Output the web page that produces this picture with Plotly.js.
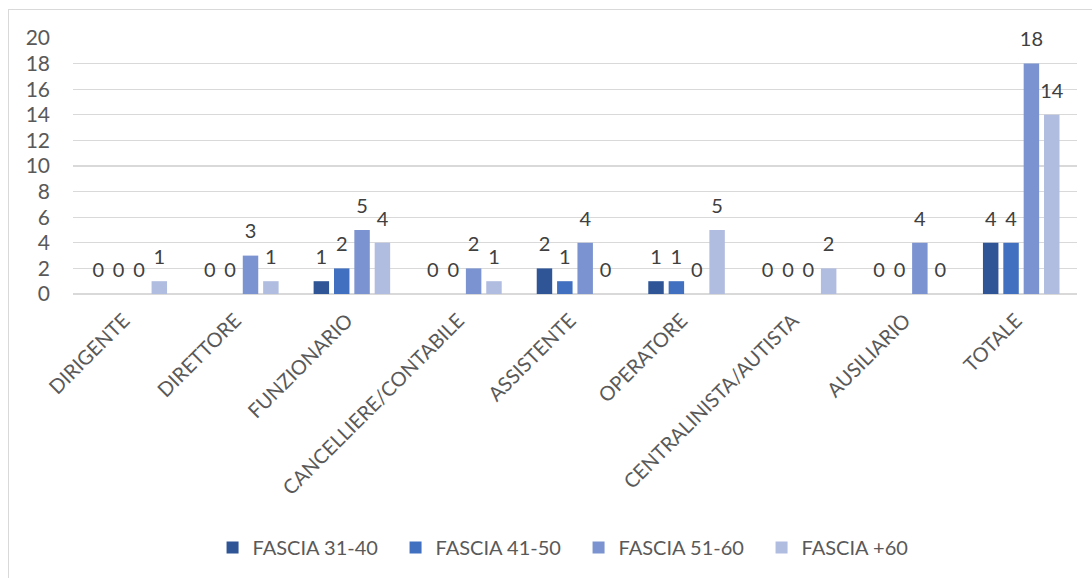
<!DOCTYPE html>
<html>
<head>
<meta charset="utf-8">
<script src="https://cdn.plot.ly/plotly-3.0.1.min.js"></script>
<style>
html,body{margin:0;padding:0;background:#fff;}
#frame{position:absolute;left:8px;top:9px;width:1100px;height:600px;border:1.5px solid #D9D9D9;box-sizing:border-box;}
#chart{position:absolute;left:0;top:0;width:1092px;height:578px;}
</style>
</head>
<body>
<div id="frame"></div>
<div id="chart"></div>
<script>
const categories = ["DIRIGENTE","DIRETTORE","FUNZIONARIO","CANCELLIERE/CONTABILE","ASSISTENTE","OPERATORE","CENTRALINISTA/AUTISTA","AUSILIARIO","TOTALE"];
const seriesNames = ["FASCIA 31-40","FASCIA 41-50","FASCIA 51-60","FASCIA +60"];
const fascia3140 = [0,0,1,0,2,1,0,0,4];
const fascia4150 = [0,0,2,0,1,1,0,0,4];
const fascia5160 = [0,3,5,2,4,0,0,4,18];
const fascia60   = [1,1,4,1,0,5,2,0,14];
const yTicks = [0,2,4,6,8,10,12,14,16,18,20];

const colors = ["#2F5597","#4270C0","#7B93D0","#B1BDE0"];
const allValues = [fascia3140, fascia4150, fascia5160, fascia60];
const FONT = "Lato, 'Open Sans', sans-serif";
const GAP = 0.27;

const barTraces = allValues.map((vals,i)=>({
  type:'bar',
  name: seriesNames[i],
  x: categories,
  y: vals,
  marker:{color:colors[i]},
  hoverinfo:'x+y+name'
}));

const labelTraces = allValues.map((vals,i)=>({
  type:'scatter',
  mode:'markers+text',
  name: seriesNames[i] + ' etichette',
  x: categories,
  y: vals,
  text: vals.map(String),
  textposition:'top center',
  textfont:{family:FONT,size:20,color:'#404040'},
  marker:{size:18,opacity:0,color:colors[i]},
  cliponaxis:false,
  showlegend:false,
  hoverinfo:'skip'
}));

const layout = {
  width:1092, height:578,
  margin:{l:73,r:15,t:38,b:284},
  paper_bgcolor:'rgba(0,0,0,0)',
  plot_bgcolor:'rgba(0,0,0,0)',
  barmode:'group',
  scattermode:'group',
  bargap:GAP,
  scattergap:GAP,
  bargroupgap:0.24,
  font:{family:FONT,color:'#595959',size:20},
  xaxis:{
    type:'category',
    tickangle:-45,
    tickfont:{family:FONT,size:20,color:'#595959'},
    showgrid:false,
    showline:false,
    ticks:'',
    ticklabelstandoff:10,
    ticklabelshift:-5,
    automargin:false
  },
  yaxis:{
    range:[0,20],
    tickvals:yTicks,
    ticktext:yTicks.map(String),
    tickfont:{family:FONT,size:21,color:'#595959'},
    showgrid:true,
    gridcolor:'#D9D9D9',
    gridwidth:1.3,
    zeroline:true,
    zerolinecolor:'#D9D9D9',
    zerolinewidth:1.3,
    showline:false,
    ticks:'',
    ticklabelstandoff:22,
    automargin:false
  },
  legend:{
    orientation:'h',
    x:0.139, xanchor:'left',
    y:-0.99, yanchor:'middle',
    font:{family:FONT,size:20,color:'#595959'},
    itemwidth:30,
    entrywidth:138,
    entrywidthmode:'pixels',
    traceorder:'normal'
  },
  showlegend:true
};

Plotly.newPlot('chart', barTraces.concat(labelTraces), layout, {displayModeBar:false, staticPlot:true});
</script>
</body>
</html>
